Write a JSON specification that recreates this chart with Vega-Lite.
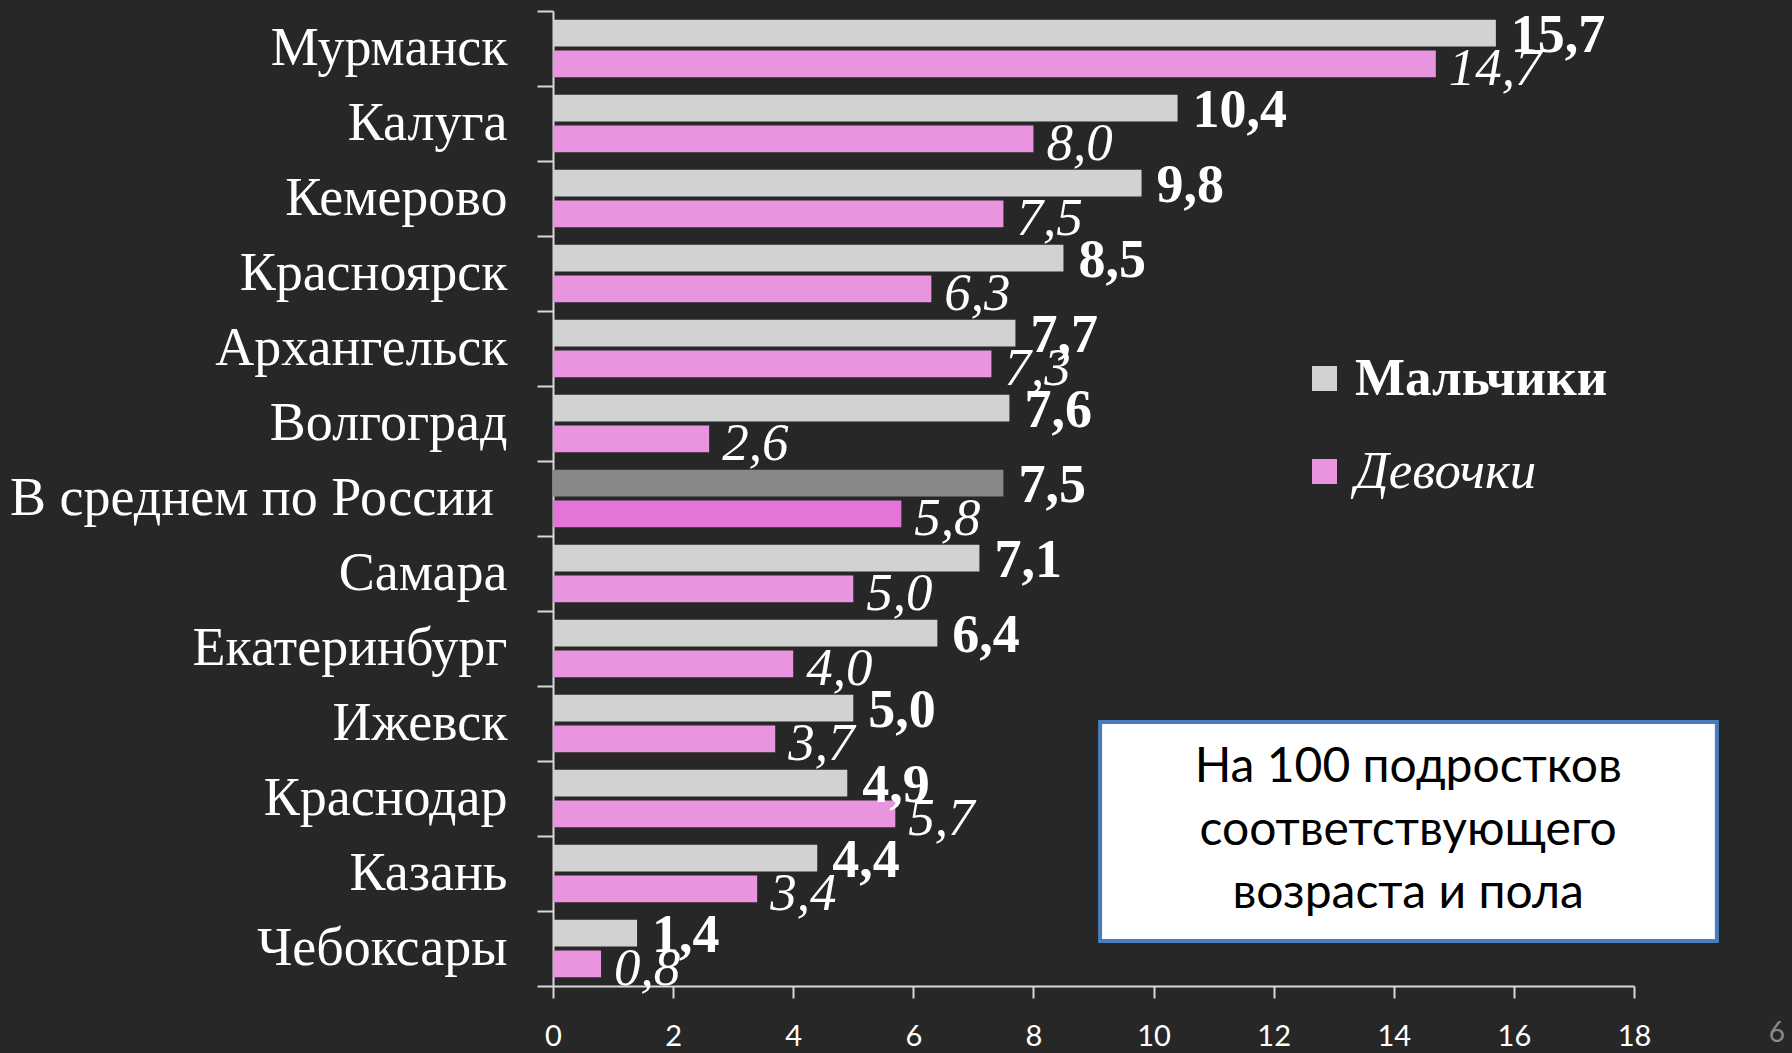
{
  "$schema": "https://vega.github.io/schema/vega-lite/v6.json",
  "width": 1081,
  "height": 975,
  "autosize": {"type": "none"},
  "padding": {"left": 553, "top": 11, "right": 158, "bottom": 67},
  "background": "#272727",
  "config": {
    "view": {"stroke": null},
    "locale": {"number": {"decimal": ",", "thousands": "\u00a0", "grouping": [3], "currency": ["", " ₽"]}}
  },
  "resolve": {"scale": {"y": "independent"}, "axis": {"y": "independent"}},
  "layer": [
    {
      "data": {
        "values": [
          {"region": "Мурманск", "series": "Мальчики", "colorKey": "Мальчики", "value": 15.7},
          {"region": "Мурманск", "series": "Девочки", "colorKey": "Девочки", "value": 14.7},
          {"region": "Калуга", "series": "Мальчики", "colorKey": "Мальчики", "value": 10.4},
          {"region": "Калуга", "series": "Девочки", "colorKey": "Девочки", "value": 8.0},
          {"region": "Кемерово", "series": "Мальчики", "colorKey": "Мальчики", "value": 9.8},
          {"region": "Кемерово", "series": "Девочки", "colorKey": "Девочки", "value": 7.5},
          {"region": "Красноярск", "series": "Мальчики", "colorKey": "Мальчики", "value": 8.5},
          {"region": "Красноярск", "series": "Девочки", "colorKey": "Девочки", "value": 6.3},
          {"region": "Архангельск", "series": "Мальчики", "colorKey": "Мальчики", "value": 7.7},
          {"region": "Архангельск", "series": "Девочки", "colorKey": "Девочки", "value": 7.3},
          {"region": "Волгоград", "series": "Мальчики", "colorKey": "Мальчики", "value": 7.6},
          {"region": "Волгоград", "series": "Девочки", "colorKey": "Девочки", "value": 2.6},
          {"region": "В среднем по России", "series": "Мальчики", "colorKey": "Мальчики (в среднем)", "value": 7.5},
          {"region": "В среднем по России", "series": "Девочки", "colorKey": "Девочки (в среднем)", "value": 5.8},
          {"region": "Самара", "series": "Мальчики", "colorKey": "Мальчики", "value": 7.1},
          {"region": "Самара", "series": "Девочки", "colorKey": "Девочки", "value": 5.0},
          {"region": "Екатеринбург", "series": "Мальчики", "colorKey": "Мальчики", "value": 6.4},
          {"region": "Екатеринбург", "series": "Девочки", "colorKey": "Девочки", "value": 4.0},
          {"region": "Ижевск", "series": "Мальчики", "colorKey": "Мальчики", "value": 5.0},
          {"region": "Ижевск", "series": "Девочки", "colorKey": "Девочки", "value": 3.7},
          {"region": "Краснодар", "series": "Мальчики", "colorKey": "Мальчики", "value": 4.9},
          {"region": "Краснодар", "series": "Девочки", "colorKey": "Девочки", "value": 5.7},
          {"region": "Казань", "series": "Мальчики", "colorKey": "Мальчики", "value": 4.4},
          {"region": "Казань", "series": "Девочки", "colorKey": "Девочки", "value": 3.4},
          {"region": "Чебоксары", "series": "Мальчики", "colorKey": "Мальчики", "value": 1.4},
          {"region": "Чебоксары", "series": "Девочки", "colorKey": "Девочки", "value": 0.8}
        ]
      },
      "encoding": {
        "y": {
          "field": "region", "type": "nominal", "sort": null, "title": null,
          "scale": {"paddingInner": 0, "paddingOuter": 0},
          "axis": {
            "orient": "left", "tickBand": "extent",
            "tickSize": 16, "tickColor": "#d9d9d9", "tickWidth": 2,
            "domainColor": "#d9d9d9", "domainWidth": 2, "labelPadding": 30, "labelLimit": 0,
            "labelExpr": "datum.label == 'В среднем по России' ? datum.label + '\u2005\u2060' : datum.label",
            "labelFont": "Liberation Serif", "labelFontSize": 54, "labelColor": "#ffffff", "grid": false
          }
        },
        "yOffset": {"field": "series", "type": "nominal", "sort": ["Мальчики", "Девочки"], "scale": {"paddingInner": 0.13, "paddingOuter": 0.2865}},
        "x": {
          "field": "value", "type": "quantitative", "title": null,
          "scale": {"domain": [0, 18], "nice": false},
          "axis": {
            "values": [0, 2, 4, 6, 8, 10, 12, 14, 16, 18], "format": "d", "grid": false, "labelFlush": false,
            "tickSize": 12, "tickColor": "#d9d9d9", "tickWidth": 2, "domainColor": "#d9d9d9", "domainWidth": 2,
            "labelFont": "Lato", "labelFontSize": 29, "labelColor": "#ffffff", "labelPadding": 24
          }
        }
      },
      "layer": [
        {
          "mark": {"type": "bar"},
          "encoding": {
            "color": {
              "field": "colorKey", "type": "nominal",
              "scale": {
                "domain": ["Мальчики", "Девочки", "Мальчики (в среднем)", "Девочки (в среднем)"],
                "range": ["#d2d2d2", "#e994de", "#888888", "#e176d6"]
              },
              "legend": {
                "values": ["Мальчики", "Девочки"], "title": null, "orient": "none",
                "legendX": 745, "legendY": 341, "padding": 0,
                "symbolType": "square", "symbolSize": 625, "symbolStrokeWidth": 0, "symbolOpacity": 1,
                "labelFont": "Liberation Serif", "labelFontSize": 53, "labelColor": "#ffffff",
                "labelFontWeight": {"expr": "datum.value == 'Мальчики' ? 'bold' : 'normal'"},
                "labelFontStyle": {"expr": "datum.value == 'Девочки' ? 'italic' : 'normal'"},
                "rowPadding": 39, "labelOffset": 4, "labelLimit": 0
              }
            }
          }
        },
        {
          "transform": [{"filter": "datum.series == 'Мальчики'"}],
          "mark": {"type": "text", "align": "left", "baseline": "middle", "dx": 15, "dy": 3,
                   "font": "Liberation Serif", "fontWeight": "bold", "fontSize": 54, "fill": "#ffffff"},
          "encoding": {"text": {"field": "value", "type": "quantitative", "format": ".1f"}}
        },
        {
          "transform": [{"filter": "datum.series == 'Девочки'"}],
          "mark": {"type": "text", "align": "left", "baseline": "middle", "dx": 13, "dy": 5,
                   "font": "Liberation Serif", "fontStyle": "italic", "fontSize": 53, "fill": "#ffffff"},
          "encoding": {"text": {"field": "value", "type": "quantitative", "format": ".1f"}}
        }
      ]
    },
    {
      "layer": [
        {
          "data": {"values": [{"x": 9.11, "x2": 19.38, "y": 9.48, "y2": 12.4}]},
          "mark": {"type": "rect", "fill": "#ffffff", "stroke": "#4a7ebb", "strokeWidth": 4},
          "encoding": {
            "x": {"field": "x", "type": "quantitative", "title": null, "scale": {"domain": [0, 18], "nice": false}},
            "x2": {"field": "x2"},
            "y": {"field": "y", "type": "quantitative", "title": null, "scale": {"domain": [0, 13], "reverse": true, "nice": false}, "axis": null},
            "y2": {"field": "y2"}
          }
        },
        {
          "data": {"values": [{"x": 14.24, "y": 10.09, "note": "На 100 подростков\nсоответствующего\nвозраста и пола"}]},
          "mark": {"type": "text", "align": "center", "baseline": "middle", "lineBreak": "\n", "lineHeight": 63,
                   "font": "Lato", "fontSize": 48, "fill": "#000000"},
          "encoding": {
            "x": {"field": "x", "type": "quantitative", "title": null, "scale": {"domain": [0, 18], "nice": false}},
            "y": {"field": "y", "type": "quantitative", "title": null, "scale": {"domain": [0, 13], "reverse": true, "nice": false}, "axis": null},
            "text": {"field": "note", "type": "nominal"}
          }
        },
        {
          "data": {"values": [{"x": 20.38, "y": 13.64, "page": "6"}]},
          "mark": {"type": "text", "align": "center", "baseline": "middle", "font": "Lato", "fontSize": 28, "fill": "#8a8a8a"},
          "encoding": {
            "x": {"field": "x", "type": "quantitative", "title": null, "scale": {"domain": [0, 18], "nice": false}},
            "y": {"field": "y", "type": "quantitative", "title": null, "scale": {"domain": [0, 13], "reverse": true, "nice": false}, "axis": null},
            "text": {"field": "page", "type": "nominal"}
          }
        }
      ]
    }
  ]
}
